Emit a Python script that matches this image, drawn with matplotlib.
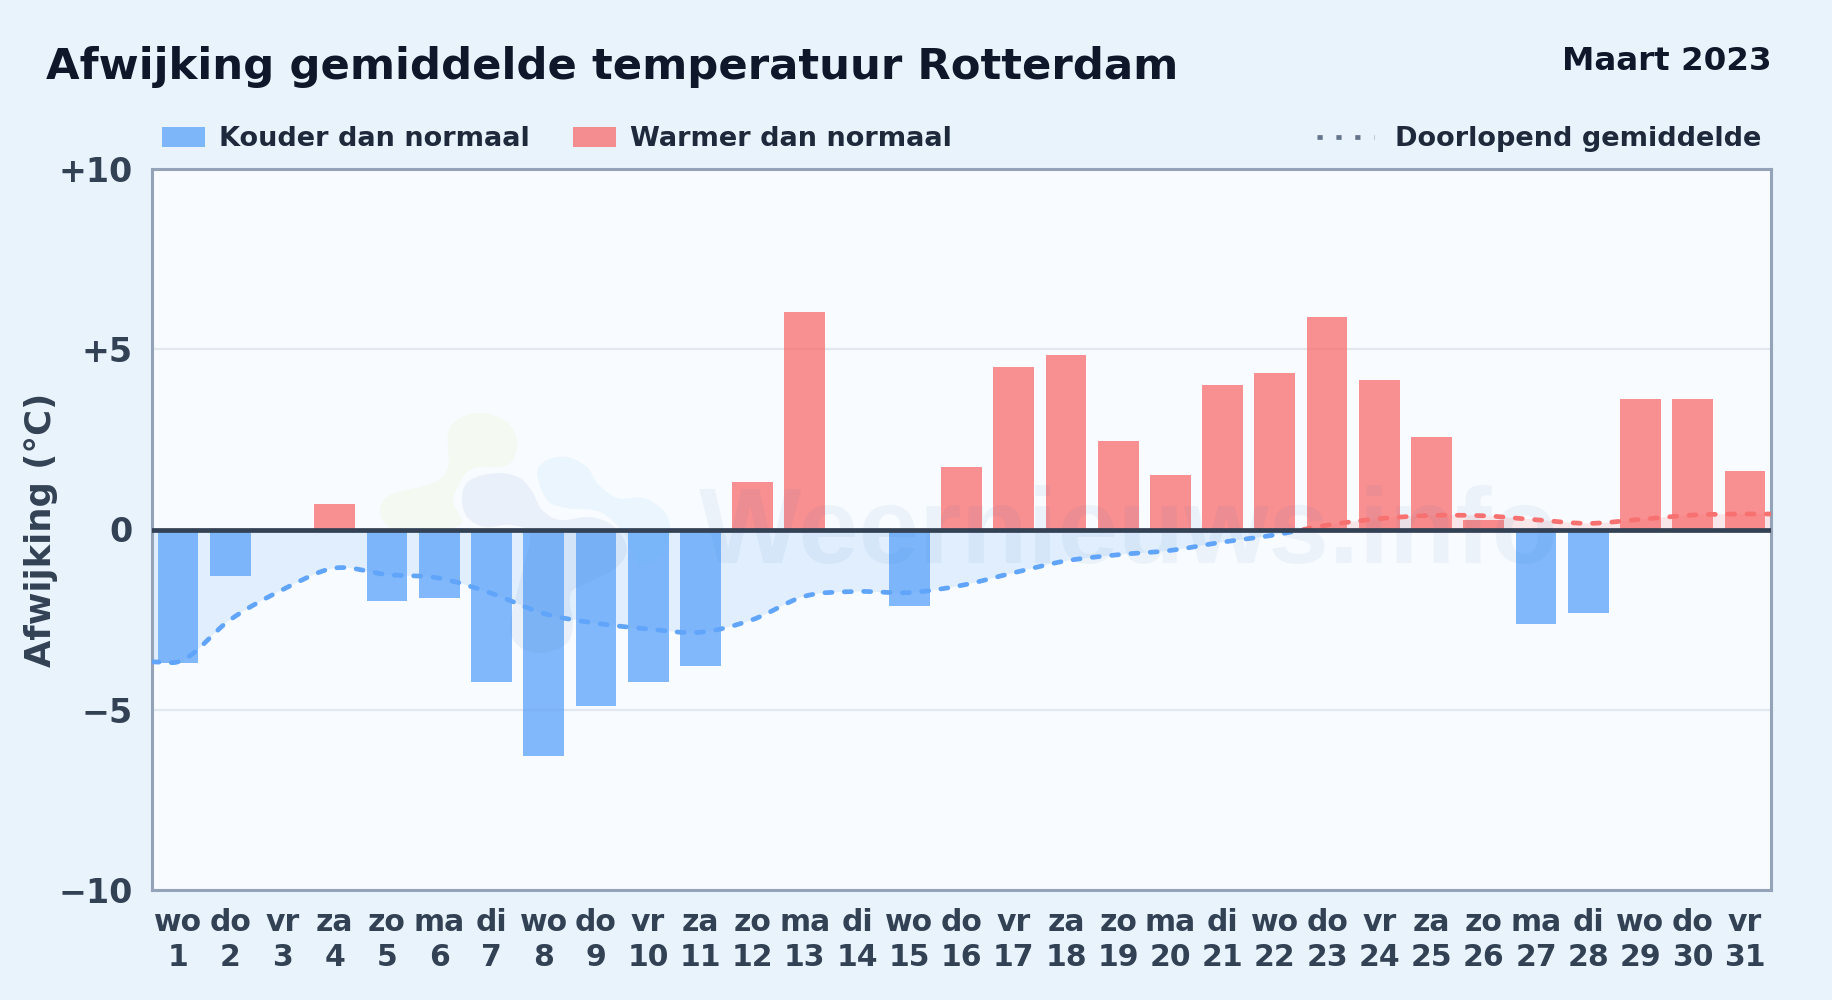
import numpy as np
import matplotlib
matplotlib.use('Agg')
import matplotlib.pyplot as plt
from matplotlib.path import Path
from matplotlib.patches import PathPatch, Rectangle

days = list(range(1, 32))
weekdays = ['wo','do','vr','za','zo','ma','di','wo','do','vr','za','zo','ma','di','wo','do',
            'vr','za','zo','ma','di','wo','do','vr','za','zo','ma','di','wo','do','vr']
afwijking = [-3.69,-1.3,0,0.72,-1.97,-1.9,-4.22,-6.28,-4.9,-4.22,-3.8,1.33,6.03,0,-2.12,1.72,
             4.5,4.83,2.46,1.5,4.0,4.35,5.9,4.15,2.56,0.25,-2.62,-2.33,3.62,3.62,1.62]
lopend = [-3.67,-2.5,-1.67,-1.07,-1.25,-1.35,-1.77,-2.33,-2.6,-2.76,-2.85,-2.5,-1.85,-1.72,
          -1.75,-1.55,-1.2,-0.87,-0.7,-0.58,-0.35,-0.15,0.12,0.3,0.39,0.38,0.27,0.17,0.28,0.4,0.43]
yticks = [-10,-5,0,5,10]
yticklabels = ['\u221210','\u22125','0','+5','+10']

# watermark logo outlines, pixels in the picture (x right, y down)
blob_groen = [(380,513),(390,495),(433,483),(448,467),(448,433),(460,418),(483,413),(507,422),(517,440),
              (513,460),(500,467),(470,470),(453,500),(462,522),(440,530),(395,530)]
blob_grijs = [(462,497),(470,480),(497,473),(520,478),(533,493),(542,510),(560,520),(587,517),(607,522),
              (620,533),(627,550),(617,567),(593,580),(573,590),(570,603),(573,623),(567,643),(543,653),
              (520,647),(510,627),(520,580),(530,535),(510,525),(485,527),(467,517)]
blob_licht = [(537,473),(547,460),(567,457),(587,467),(597,483),(617,498),(643,498),(663,510),(670,527),
              (665,550),(640,565),(625,535),(600,512),(567,508),(547,500)]

blauw = '#60a5fa'
rood = '#f87171'
tekst = '#334155'

plt.rcParams['font.family'] = 'DejaVu Sans'
plt.rcParams['font.weight'] = 'bold'

fig = plt.figure(figsize=(18.32,10),dpi=100,facecolor='#e8f3fc')
ax = fig.add_axes([152/1832,1-890/1000,(1771-152)/1832,(890-169)/1000],facecolor='#f8fbff')

def curve(x,y):
    # smooth line through the points as bezier segments
    x = np.asarray(x,float); y = np.asarray(y,float)
    t = np.gradient(y,x)
    verts = [(x[0],y[0])]
    codes = [Path.MOVETO]
    for i in range(len(x)-1):
        h = (x[i+1]-x[i])/3
        verts += [(x[i]+h,y[i]+t[i]*h),(x[i+1]-h,y[i+1]-t[i+1]*h),(x[i+1],y[i+1])]
        codes += [Path.CURVE4]*3
    return verts,codes

def blob(punten):
    # closed smooth outline, in figure fractions
    p = np.array(punten,float)
    p = p/[1832,-1000]+[0,1]
    n = len(p)
    verts = [tuple(p[0])]
    codes = [Path.MOVETO]
    for i in range(n):
        a,b,c,d = p[i-1],p[i],p[(i+1)%n],p[(i+2)%n]
        verts += [tuple(b+(c-a)/6),tuple(c-(d-b)/6),tuple(c)]
        codes += [Path.CURVE4]*3
    return Path(verts,codes)

ax.set_xlim(0.5,31.5)
ax.set_ylim(-10,10)
ax.grid(axis='y',color='#e2e8f0',lw=1.6,zorder=0)
ax.set_axisbelow(True)

# running mean, runs on to both plot edges
lx = [0.5]+days+[31.5]
ly = [lopend[0]]+lopend+[lopend[-1]]
verts,codes = curve(lx,ly)
vlak = Path(verts+[(31.5,0),(0.5,0),(0.5,0)],codes+[Path.LINETO,Path.LINETO,Path.CLOSEPOLY])
lijn = Path(verts,codes)
onder = Rectangle((0.5,-10),31,10,transform=ax.transData)
boven = Rectangle((0.5,0),31,10,transform=ax.transData)
for kleur,clip in ((blauw,onder),(rood,boven)):
    p = PathPatch(vlak,fc=kleur,ec='none',alpha=0.15,zorder=1)
    ax.add_patch(p); p.set_clip_path(clip)

kleuren = [rood if v>0 else blauw for v in afwijking]
ax.bar(days,afwijking,width=0.78,color=kleuren,alpha=0.78,zorder=2)

for kleur,clip in ((blauw,onder),(rood,boven)):
    p = PathPatch(lijn,fc='none',ec=kleur,lw=3.4,ls=(0,(1.5,2.6)),capstyle='round',zorder=4)
    ax.add_patch(p); p.set_clip_path(clip)

ax.axhline(0,color='#334155',lw=3.4,zorder=5)

# watermark
for punten,kleur in ((blob_groen,'#c6e755'),(blob_grijs,'#4479b9'),(blob_licht,'#4eb5f5')):
    ax.add_patch(PathPatch(blob(punten),fc=kleur,ec='none',alpha=0.08,transform=fig.transFigure,zorder=3))
ax.text(0.338,0.454,'Weernieuws.info',transform=ax.transAxes,fontsize=78,fontweight='bold',
        family='Liberation Sans',color='#266fb9',alpha=0.06,va='baseline',ha='left',zorder=3)

for s in ax.spines.values():
    s.set_color('#94a3b8'); s.set_linewidth(2.2)
ax.set_yticks(yticks)
ax.set_yticklabels(yticklabels,fontsize=24,color=tekst)
ax.set_xticks(days)
ax.set_xticklabels([w+'\n'+str(d) for w,d in zip(weekdays,days)],fontsize=21.5,color=tekst,linespacing=1.28)
ax.tick_params(length=0,axis='both')
ax.tick_params(axis='y',pad=14)
ax.tick_params(axis='x',pad=13)
ax.set_ylabel('Afwijking (°C)',fontsize=25.5,color=tekst,fontweight='bold')
ax.yaxis.set_label_coords(-(152-58)/1619,0.5)

fig.text(46/1832,1-67/1000,'Afwijking gemiddelde temperatuur Rotterdam',fontsize=31.2,color='#0f172a',va='center')
fig.text(1772/1832,1-61/1000,'Maart 2023',fontsize=23.4,color='#0f172a',va='center',ha='right')

# legend row
fy = 1-137/1000
fig.patches.append(Rectangle((162/1832,fy-10/1000),43/1832,20/1000,transform=fig.transFigure,fc=blauw,alpha=0.78))
fig.text(219/1832,fy-2/1000,'Kouder dan normaal',fontsize=19.5,color='#1e293b',va='center')
fig.patches.append(Rectangle((573/1832,fy-10/1000),43/1832,20/1000,transform=fig.transFigure,fc=rood,alpha=0.78))
fig.text(630/1832,fy-2/1000,'Warmer dan normaal',fontsize=19.5,color='#1e293b',va='center')
fig.add_artist(plt.Line2D([1317/1832,1374/1832],[fy,fy],transform=fig.transFigure,color='#64748b',lw=3.4,ls=(0,(1.1,2.9))))
fig.text(1395/1832,fy-2/1000,'Doorlopend gemiddelde',fontsize=19.5,color='#1e293b',va='center')

fig.savefig('out.png',dpi=100,facecolor=fig.get_facecolor())
